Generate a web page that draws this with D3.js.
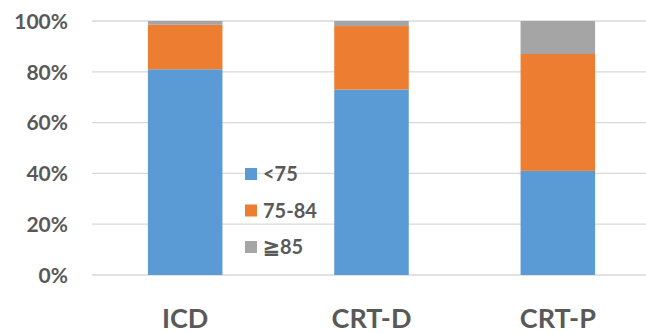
<!DOCTYPE html>
<html>
<head>
<meta charset="utf-8">
<script src="https://cdn.jsdelivr.net/npm/d3@7"></script>
<style>
  html, body { margin: 0; padding: 0; background: #fff; }
  svg { display: block; }
  text { font-family: Lato, "Open Sans", sans-serif; font-weight: 700; fill: #595959; }
</style>
</head>
<body>
<svg id="chart" width="646" height="333"></svg>
<script>
// Device types and age-group shares (percent of patients)
const categories = ["ICD", "CRT-D", "CRT-P"];
const seriesNames = ["<75", "75-84", "\u226785"];
const under75 = [81, 73, 41];
const age75to84 = [17.5, 25, 46];
const over85 = [1.5, 2, 13];
const yTicks = [0, 20, 40, 60, 80, 100];
const colors = ["#5B9BD5", "#ED7D31", "#A5A5A5"];

const rows = categories.map((c, i) => ({
  cat: c, "<75": under75[i], "75-84": age75to84[i], "\u226785": over85[i]
}));

const svg = d3.select("#chart");
const margin = { left: 92, right: 0, top: 21, bottom: 58 };
const W = 646, H = 333;

const x = d3.scaleBand().domain(categories)
  .range([margin.left, 651]).paddingInner(0.6).paddingOuter(0.3);
const y = d3.scaleLinear().domain([0, 100]).range([H - margin.bottom, margin.top]);

// gridlines
svg.append("g").selectAll("line").data(yTicks).join("line")
  .attr("x1", margin.left).attr("x2", W)
  .attr("y1", d => y(d)).attr("y2", d => y(d))
  .attr("stroke", "#D9D9D9").attr("stroke-width", 1.3);

// stacked bars
const stack = d3.stack().keys(seriesNames)(rows);
svg.append("g").selectAll("g").data(stack).join("g")
  .attr("fill", (d, i) => colors[i])
  .selectAll("rect").data(d => d).join("rect")
  .attr("x", d => x(d.data.cat))
  .attr("width", x.bandwidth())
  .attr("y", d => y(d[1]))
  .attr("height", d => y(d[0]) - y(d[1]));

// y axis labels
const yAxis = d3.axisLeft(y).tickValues(yTicks).tickFormat(d => d + "%").tickSize(0).tickPadding(0);
const gy = svg.append("g").attr("transform", "translate(68,0)").call(yAxis);
gy.select(".domain").remove();
gy.selectAll("text").attr("font-size", 21).attr("dy", "0.35em")
  .style("font-family", "Lato, sans-serif").style("font-weight", 700).attr("fill", "#595959");

// x axis labels
const xAxis = d3.axisBottom(x).tickSize(0).tickPadding(0);
const gx = svg.append("g").attr("transform", "translate(0,328)").call(xAxis);
gx.select(".domain").remove();
gx.selectAll("text").attr("font-size", 27).attr("dy", 0)
  .style("font-family", "Lato, sans-serif").style("font-weight", 700).attr("fill", "#595959");

// legend
const legend = svg.append("g").attr("transform", "translate(245,174)");
const item = legend.selectAll("g").data(seriesNames).join("g")
  .attr("transform", (d, i) => `translate(0,${i * 36.5})`);
item.append("rect").attr("x", 0).attr("y", -6).attr("width", 12).attr("height", 12)
  .attr("fill", (d, i) => colors[i]);
item.append("text").attr("x", 18).attr("y", 0).attr("dy", "0.35em")
  .attr("font-size", 20).text(d => d);
</script>
</body>
</html>
